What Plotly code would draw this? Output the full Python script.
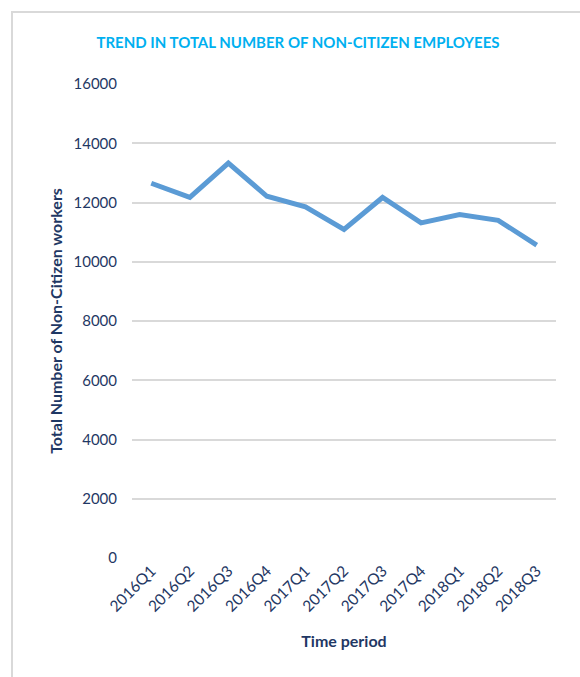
import plotly.graph_objects as go

periods = ["2016Q1", "2016Q2", "2016Q3", "2016Q4", "2017Q1", "2017Q2",
           "2017Q3", "2017Q4", "2018Q1", "2018Q2", "2018Q3"]
workers = [12650, 12170, 13330, 12210, 11850, 11090, 12170, 11310, 11590, 11400, 10560]
y_ticks = [0, 2000, 4000, 6000, 8000, 10000, 12000, 14000, 16000]
y_tick_labels = ["0", "2000", "4000", "6000", "8000", "10000", "12000", "14000", "16000"]

navy = "#1F3864"
font_family = "Lato, 'Open Sans', sans-serif"

fig = go.Figure()
fig.add_trace(go.Scatter(
    x=periods, y=workers, mode="lines",
    line=dict(color="#5B9BD5", width=5),
    hoverinfo="x+y",
))

W, H = 580, 677
L, R, T, B = 132, 24, 84, 119
pw, ph = W - L - R, H - T - B

def px(x):
    return (x - L) / pw

def py(y):
    return 1 - (y - T) / ph

fig.update_layout(
    width=W, height=H,
    margin=dict(l=L, r=R, t=T, b=B),
    paper_bgcolor="white", plot_bgcolor="white",
    font=dict(family=font_family, color=navy),
    showlegend=False,
    title=dict(
        text="<b>TREND IN TOTAL NUMBER OF NON-CITIZEN EMPLOYEES</b>",
        font=dict(size=15, color="#00B0F0", family=font_family),
        x=px(298), xanchor="center", xref="paper",
        y=1 - 43 / H, yanchor="middle", yref="container",
    ),
    xaxis=dict(
        type="category",
        automargin=False,
        range=[-0.5, len(periods) - 0.5],
        tickangle=-45,
        tickfont=dict(size=15.5, color=navy),
        showgrid=False, showline=False, zeroline=False,
        ticks="",
        title=dict(text="<b>Time period</b>", font=dict(size=16, color=navy), standoff=21),
    ),
    yaxis=dict(
        automargin=False,
        range=[0, 16000],
        tickvals=y_ticks,
        ticktext=y_tick_labels,
        tickfont=dict(size=15, color=navy),
        showgrid=True, gridcolor="#D9D9D9", gridwidth=2,
        zeroline=False, showline=False,
        ticks="",
        ticklabelstandoff=14,
        title=dict(text="<b>Total Number of Non-Citizen workers</b>", font=dict(size=16, color=navy), standoff=6),
    ),
    shapes=[dict(
        type="rect", xref="paper", yref="paper",
        x0=px(12), x1=px(W + 20), y0=py(H + 20), y1=py(12),
        line=dict(color="#D9D9D9", width=2), fillcolor="rgba(0,0,0,0)",
        layer="below",
    )],
)

fig.write_html(
    "out.html",
    config={"displayModeBar": False},
    post_script="document.body.style.margin='0';document.body.style.overflow='hidden';",
)
